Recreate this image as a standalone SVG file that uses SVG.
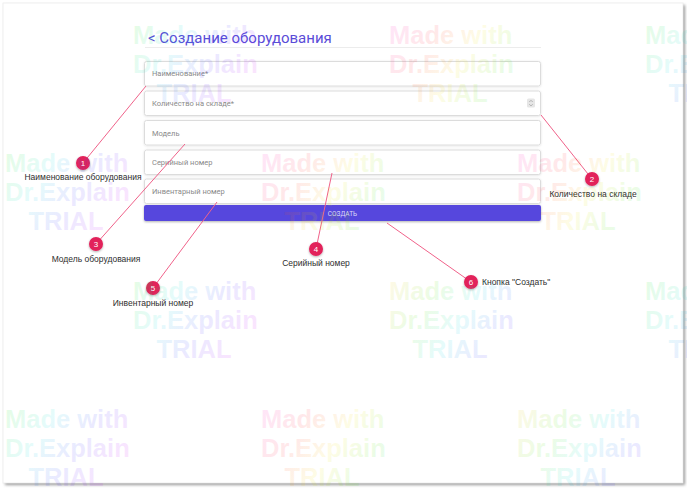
<svg xmlns="http://www.w3.org/2000/svg" width="687" height="488" viewBox="0 0 687 488">
<defs>
<style>
.ph{font-family:Roboto,"Liberation Sans",sans-serif;font-size:7.5px;fill:#8a8a8a}
.fld{fill:#fff;stroke:#dcdcdc;stroke-width:1}
.conn{stroke:#f0628a;stroke-width:1;fill:none}
.dot{fill:#e2215a}
.num{font-family:"Liberation Sans",Arial,sans-serif;font-size:8px;fill:#fff;text-anchor:middle}
.lbl{font-family:"Liberation Sans",Arial,sans-serif;font-size:8.5px;fill:#2e2e2e}
.wm{font-family:"Liberation Sans",Arial,sans-serif;font-size:25.5px;font-weight:bold;fill-opacity:0.1}
</style>
<filter id="pageSh" x="-5%" y="-5%" width="110%" height="110%">
<feGaussianBlur stdDeviation="1.5"/>
</filter>
<filter id="sh" x="-50%" y="-50%" width="200%" height="200%">
<feDropShadow dx="0" dy="1" stdDeviation="1.2" flood-color="#000" flood-opacity="0.3"/>
</filter>
<filter id="fsh" x="-5%" y="-30%" width="110%" height="160%">
<feDropShadow dx="0" dy="0.5" stdDeviation="0.8" flood-color="#000" flood-opacity="0.12"/>
</filter>
<linearGradient id="wgA" gradientUnits="userSpaceOnUse" x1="0" y1="-20" x2="125" y2="60">
<stop offset="0" stop-color="#00e000"/><stop offset="0.3" stop-color="#00d8d8"/><stop offset="0.55" stop-color="#3030ff"/><stop offset="0.8" stop-color="#b000ff"/><stop offset="1" stop-color="#ff00c0"/>
</linearGradient>
<linearGradient id="wgB" gradientUnits="userSpaceOnUse" x1="0" y1="-20" x2="125" y2="60">
<stop offset="0" stop-color="#ff00c0"/><stop offset="0.3" stop-color="#ff2020"/><stop offset="0.55" stop-color="#f0e000"/><stop offset="0.8" stop-color="#40e000"/><stop offset="1" stop-color="#00d8c0"/>
</linearGradient>
<linearGradient id="wgC" gradientUnits="userSpaceOnUse" x1="0" y1="-20" x2="125" y2="60">
<stop offset="0" stop-color="#f0c000"/><stop offset="0.3" stop-color="#40e000"/><stop offset="0.55" stop-color="#00d8d8"/><stop offset="0.8" stop-color="#3030ff"/><stop offset="1" stop-color="#8000ff"/>
</linearGradient>
<g id="wmTile">
<text class="wm" x="0" y="0">Made with</text>
<text class="wm" x="0" y="29">Dr.Explain</text>
<text class="wm" x="61" y="58" text-anchor="middle">TRIAL</text>
</g>
</defs>

<rect width="687" height="488" fill="#fff"/>
<g id="page">
<rect x="5" y="5" width="680" height="480" fill="#9a9a9a" filter="url(#pageSh)"/>
<rect x="3" y="3" width="680" height="480" fill="#fff" stroke="#ececec" stroke-width="0.8"/>
</g>

<g id="title">
<text x="148" y="43" font-family="Roboto,'Liberation Sans',sans-serif" font-size="15" fill="#5a4cd8">&lt; Создание оборудования</text>
<line x1="145" y1="47.5" x2="541" y2="47.5" stroke="#ececec" stroke-width="1"/>
</g>

<g id="field-name">
<rect class="fld" x="144.5" y="61.5" width="396" height="24.5" rx="2" filter="url(#fsh)"/>
<text class="ph" x="152" y="76">Наименование*</text>
</g>
<g id="field-qty">
<rect class="fld" x="144.5" y="91" width="396" height="24.5" rx="2" filter="url(#fsh)"/>
<text class="ph" x="152" y="105.5">Количество на складе*</text>
<rect x="527" y="98.5" width="8" height="9" rx="1.5" fill="#e6e6e6"/>
<path d="M529.3 102 L531 100.3 L532.7 102 M529.3 104.2 L531 105.9 L532.7 104.2" fill="none" stroke="#9a9a9a" stroke-width="0.7"/>
</g>
<g id="field-model">
<rect class="fld" x="144.5" y="120.5" width="396" height="24.5" rx="2" filter="url(#fsh)"/>
<text class="ph" x="152" y="135.5">Модель</text>
</g>
<g id="field-serial">
<rect class="fld" x="144.5" y="150" width="396" height="24.5" rx="2" filter="url(#fsh)"/>
<text class="ph" x="152" y="165">Серийный номер</text>
</g>
<g id="field-inv">
<rect class="fld" x="144.5" y="179" width="396" height="24.5" rx="2" filter="url(#fsh)"/>
<text class="ph" x="152" y="194">Инвентарный номер</text>
</g>
<g id="button-create">
<rect x="144" y="205" width="397" height="16" rx="2" fill="#5646dd" filter="url(#sh)"/>
<text x="342.5" y="215.5" text-anchor="middle" font-family="Roboto,'Liberation Sans',sans-serif" font-size="6.5" fill="#dcd9f7">СОЗДАТЬ</text>
</g>

<g id="connectors">
<line class="conn" x1="83" y1="163" x2="146" y2="86"/>
<line class="conn" x1="592" y1="179" x2="541" y2="115"/>
<line class="conn" x1="96" y1="244" x2="185" y2="144"/>
<line class="conn" x1="316" y1="249" x2="332" y2="173"/>
<line class="conn" x1="153" y1="288" x2="217" y2="202"/>
<line class="conn" x1="471" y1="282" x2="387" y2="223"/>
</g>

<g id="callout-1">
<circle class="dot" cx="83" cy="163" r="7" filter="url(#sh)"/>
<text class="num" x="83" y="166">1</text>
<text class="lbl" x="83" y="180" text-anchor="middle">Наименование оборудования</text>
</g>
<g id="callout-2">
<circle class="dot" cx="592" cy="179" r="7" filter="url(#sh)"/>
<text class="num" x="592" y="182">2</text>
<text class="lbl" x="593" y="197" text-anchor="middle">Количество на складе</text>
</g>
<g id="callout-3">
<circle class="dot" cx="96" cy="244" r="7" filter="url(#sh)"/>
<text class="num" x="96" y="247">3</text>
<text class="lbl" x="96" y="262" text-anchor="middle">Модель оборудования</text>
</g>
<g id="callout-4">
<circle class="dot" cx="316" cy="249" r="7" filter="url(#sh)"/>
<text class="num" x="316" y="252">4</text>
<text class="lbl" x="316" y="266" text-anchor="middle">Серийный номер</text>
</g>
<g id="callout-5">
<circle class="dot" cx="153" cy="288" r="7" filter="url(#sh)"/>
<text class="num" x="153" y="291">5</text>
<text class="lbl" x="153" y="306" text-anchor="middle">Инвентарный номер</text>
</g>
<g id="callout-6">
<circle class="dot" cx="471" cy="282" r="7" filter="url(#sh)"/>
<text class="num" x="471" y="285">6</text>
<text class="lbl" x="482" y="285">Кнопка "Создать"</text>
</g>

<g id="watermark">
<g transform="translate(133,44)" fill="url(#wgA)"><use href="#wmTile"/></g>
<g transform="translate(389,44)" fill="url(#wgB)"><use href="#wmTile"/></g>
<g transform="translate(645,44)" fill="url(#wgA)"><use href="#wmTile"/></g>
<g transform="translate(5,172)" fill="url(#wgA)"><use href="#wmTile"/></g>
<g transform="translate(261,172)" fill="url(#wgB)"><use href="#wmTile"/></g>
<g transform="translate(517,172)" fill="url(#wgB)"><use href="#wmTile"/></g>
<g transform="translate(133,300)" fill="url(#wgA)"><use href="#wmTile"/></g>
<g transform="translate(389,300)" fill="url(#wgC)"><use href="#wmTile"/></g>
<g transform="translate(645,300)" fill="url(#wgA)"><use href="#wmTile"/></g>
<g transform="translate(5,428)" fill="url(#wgA)"><use href="#wmTile"/></g>
<g transform="translate(261,428)" fill="url(#wgB)"><use href="#wmTile"/></g>
<g transform="translate(517,428)" fill="url(#wgC)"><use href="#wmTile"/></g>
</g>
</svg>
